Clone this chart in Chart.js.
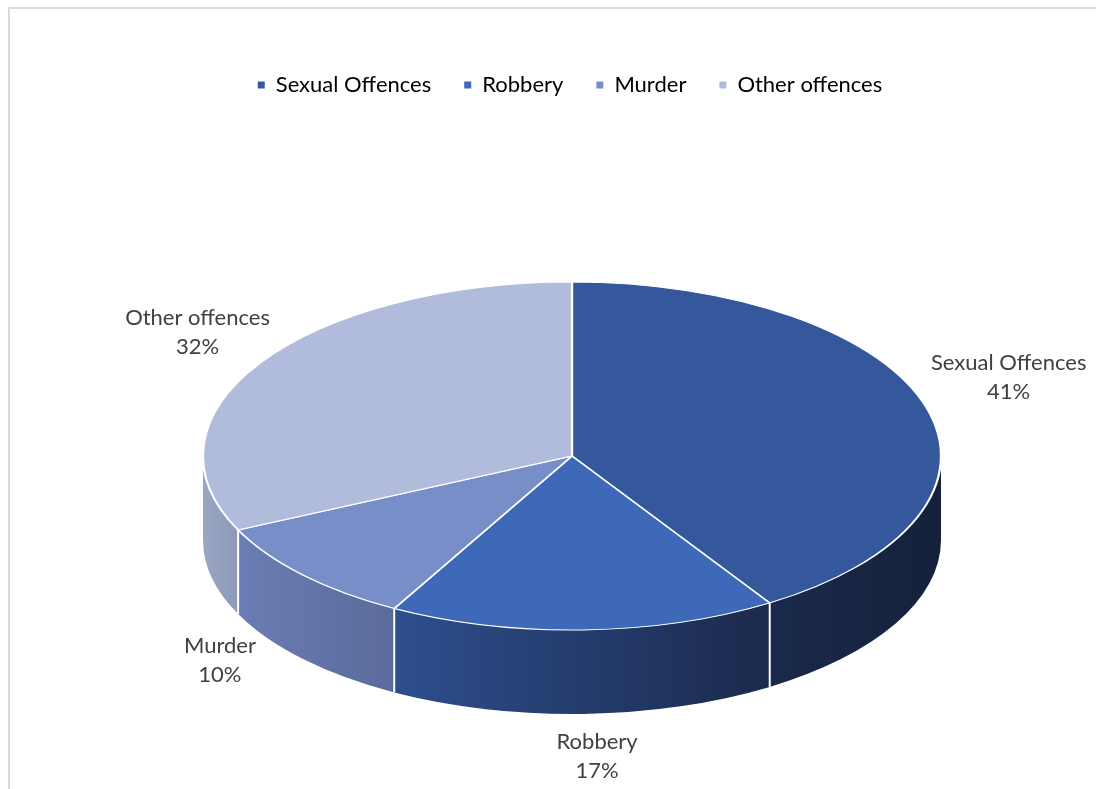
<!DOCTYPE html>
<html>
<head>
<meta charset="utf-8">
<script src="https://cdn.jsdelivr.net/npm/chart.js@4.4.0/dist/chart.umd.min.js"></script>
<style>
    html, body { margin: 0; padding: 0; background: #fff; }
    #wrap { position: relative; width: 1096px; height: 789px; overflow: hidden; }
    #frame { position: absolute; left: 8px; top: 7px; width: 2000px; height: 2000px;
             border-left: 2px solid #d9d9d9; border-top: 2px solid #d9d9d9; }
    canvas { position: absolute; left: 0; top: 0; }
</style>
</head>
<body>
<div id="wrap">
    <div id="frame"></div>
    <canvas id="pieChart" width="1096" height="789"></canvas>
</div>
<script>
// ---- data ----
const categories = ['Sexual Offences', 'Robbery', 'Murder', 'Other offences'];
const shares = [41, 17, 10, 32];

// ---- style ----
const topColors = ['#34589b', '#3e69b8', '#788ec9', '#b1bcdd'];
const sideColors = [
    ['#1a2a4c', '#15213a'],
    ['#2e4e8e', '#1b2a4c'],
    ['#6a7db4', '#5a6b9b'],
    ['#9ba6c4', '#8f9aba']
];
const FONT = 'Lato, Calibri, "Liberation Sans", sans-serif';

// ellipse of the top face on screen + thickness
const CX = 572, CY = 456, RX = 369, RY = 174, DEPTH = 84;
const TWO_PI = Math.PI * 2;

function norm(a) {
    return ((a % TWO_PI) + TWO_PI) % TWO_PI;
}

const pie3d = {
    id: 'pie3d',
    beforeDatasetsDraw(chart) {
        const ctx = chart.ctx;
        const arcs = chart.getDatasetMeta(0).data;

        // side walls (only the front half, 0..PI, is visible)
        arcs.forEach((arc, i) => {
            const a0 = norm(arc.startAngle);
            const a1 = a0 + (arc.endAngle - arc.startAngle);
            [0, TWO_PI].forEach(k => {
                const lo = Math.max(a0, k), hi = Math.min(a1, k + Math.PI);
                if (hi <= lo) return;
                const xa = CX + RX * Math.cos(lo), xb = CX + RX * Math.cos(hi);
                const grad = ctx.createLinearGradient(Math.min(xa, xb), 0, Math.max(xa, xb), 0);
                grad.addColorStop(0, sideColors[i][0]);
                grad.addColorStop(1, sideColors[i][1]);
                ctx.beginPath();
                ctx.ellipse(CX, CY, RX, RY, 0, lo, hi);
                ctx.ellipse(CX, CY + DEPTH, RX, RY, 0, hi, lo, true);
                ctx.closePath();
                ctx.fillStyle = grad;
                ctx.fill();
            });
        });

        // white seams between walls
        ctx.save();
        ctx.strokeStyle = '#ffffff';
        ctx.lineWidth = 2;
        arcs.forEach(arc => {
            const a = norm(arc.startAngle);
            if (a > 0.02 && a < Math.PI - 0.02) {
                const x = CX + RX * Math.cos(a), y = CY + RY * Math.sin(a);
                ctx.beginPath();
                ctx.moveTo(x, y);
                ctx.lineTo(x, y + DEPTH);
                ctx.stroke();
            }
        });
        ctx.restore();

        // squash the library's circle into the top face ellipse
        const r = arcs[0].outerRadius;
        ctx.save();
        ctx.translate(CX, CY);
        ctx.scale(RX / r, RY / r);
        ctx.translate(-arcs[0].x, -arcs[0].y);
    },
    afterDatasetsDraw(chart) {
        const ctx = chart.ctx;
        ctx.restore();

        const arcs = chart.getDatasetMeta(0).data;
        const total = shares.reduce((s, v) => s + v, 0);
        ctx.save();
        ctx.font = '22px ' + FONT;
        ctx.fillStyle = '#404040';
        ctx.textAlign = 'center';
        ctx.textBaseline = 'middle';
        arcs.forEach((arc, i) => {
            const m = (arc.startAngle + arc.endAngle) / 2;
            const c = Math.cos(m), s = Math.sin(m);
            const lines = [categories[i], Math.round(shares[i] / total * 100) + '%'];
            const w = Math.max(...lines.map(t => ctx.measureText(t).width));
            const h = 58, g = 8;
            const ax = CX + RX * c;
            const ay = CY + RY * s + (s > 0 ? DEPTH : 0);
            // nudge labels roughly where the perspective view puts them
            let dx = 0, dy;
            if (s < 0) {
                dy = -15 - 5 * c;
                if (c < 0) dx = 5;
            } else {
                dy = 6 - 42 * Math.abs(c);
                dx = c < -0.3 ? -51 : 12;
            }
            const lx = ax + c * (w / 2 + g) + dx;
            const ly = ay + s * (h / 2 + g) + dy;
            ctx.fillText(lines[0], lx, ly - 14);
            ctx.fillText(lines[1], lx, ly + 15);
        });
        ctx.restore();
    }
};

new Chart(document.getElementById('pieChart'), {
    type: 'pie',
    data: {
        labels: categories,
        datasets: [{
            data: shares,
            backgroundColor: topColors,
            borderColor: '#ffffff',
            borderWidth: 2,
            clip: false
        }]
    },
    options: {
        responsive: false,
        animation: false,
        events: [],
        layout: { padding: { top: 41, bottom: 20, left: 44 } },
        plugins: {
            tooltip: { enabled: false },
            legend: {
                position: 'top',
                labels: {
                    boxWidth: 7,
                    boxHeight: 7,
                    padding: 33,
                    color: '#262626',
                    font: { size: 22, family: FONT },
                    generateLabels: (chart) => categories.map((name, i) => ({
                        text: name,
                        fillStyle: topColors[i],
                        strokeStyle: topColors[i],
                        lineWidth: 0,
                        index: i
                    }))
                }
            }
        }
    },
    plugins: [pie3d]
});
</script>
</body>
</html>
